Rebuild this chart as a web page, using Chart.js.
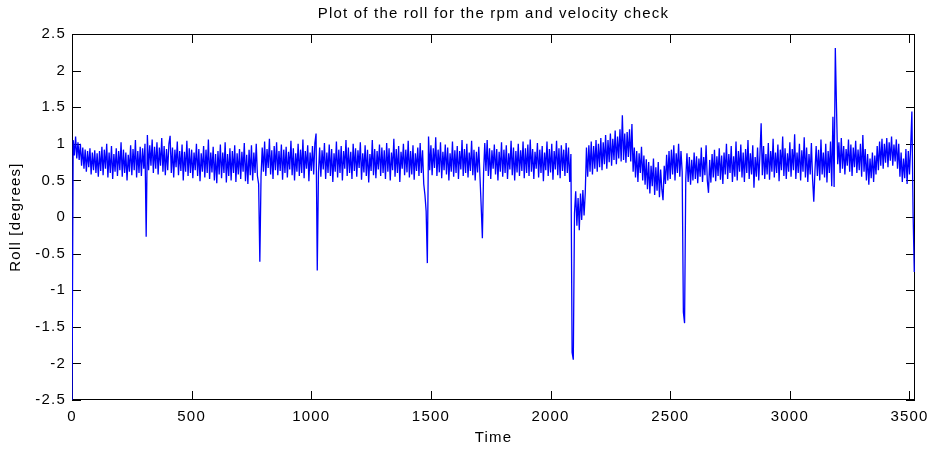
<!DOCTYPE html>
<html><head><meta charset="utf-8">
<script src="https://cdn.jsdelivr.net/npm/chart.js@4/dist/chart.umd.min.js"></script>
<style>html,body{margin:0;padding:0;background:#fff;}</style>
</head><body>
<canvas id="c" width="930" height="450"></canvas>
<script>
const chartTitle = "Plot of the roll for the rpm and velocity check";
const xTitle = "Time";
const yTitle = "Roll [degrees]";
const xTicks = [0, 500, 1000, 1500, 2000, 2500, 3000, 3500];
const yTicks = [-2.5, -2, -1.5, -1, -0.5, 0, 0.5, 1, 1.5, 2, 2.5];
const timeStep = 5;   // sample spacing of the roll series
const timeMax = 3523;

// roll values (degrees), one per sample
const roll0000 = [
 -2.5,1.05,0.84,1.1,0.8,1.02,0.78,1.0,0.7,0.95,0.66,0.92,0.62,0.9,0.68,0.94,0.58,0.88,0.64,0.91,
 0.6,0.87,0.55,0.9,0.63,0.96,0.57,0.92,0.66,1.0,0.54,0.88,0.6,0.97,0.52,0.86,0.62,0.94,0.56,0.9,
 0.64,1.02,0.55,0.92,0.6,0.88,0.5,0.85,0.62,0.98,0.57,0.93,0.64,1.05,0.54,0.9,0.6,0.96,0.56,0.94,
 0.66,1.0,-0.27,1.12,0.64,0.98,0.7,1.06,0.6,0.96,0.66,1.02,0.58,0.95,0.7,1.08,0.62,0.97,0.57,0.93,
 0.64,1.0,1.11,0.6,0.95,0.54,0.92,0.68,1.03,0.57,0.9,0.63,0.99,0.5,0.89,0.62,1.04,0.56,0.94,0.6];
const roll0500 = [
 0.92,0.53,0.88,0.64,1.0,0.56,0.93,0.49,0.87,0.62,0.97,0.54,0.92,0.6,1.06,0.52,0.88,0.61,0.96,0.5,
 0.86,0.46,0.9,0.58,0.99,0.53,0.88,0.6,1.02,0.47,0.86,0.56,0.94,0.5,0.9,0.6,0.98,0.48,0.87,0.58,
 0.93,0.52,0.89,0.62,1.01,0.49,0.85,0.45,0.92,0.57,0.98,0.5,0.88,0.6,1.0,0.56,0.45,-0.61,0.55,0.95,
 0.62,1.03,0.56,0.93,0.67,1.07,0.58,0.91,0.52,0.97,0.64,1.02,0.57,0.9,0.63,0.99,0.51,0.92,0.6,0.96,
 0.54,0.89,0.65,1.04,0.57,0.94,0.5,0.87,0.62,1.0,0.56,0.92,0.6,1.06,0.53,0.9,0.66,0.98,0.49,0.88];
const roll1000 = [
 0.63,0.97,0.58,1.01,1.14,-0.73,0.6,0.95,0.55,0.91,0.65,1.01,0.52,0.88,0.6,0.99,0.56,0.93,0.48,0.87,
 0.62,1.03,0.54,0.92,0.6,0.97,0.5,0.9,0.66,1.05,0.56,0.95,0.6,0.89,0.52,1.0,0.63,0.94,0.55,0.91,
 0.67,1.02,0.51,0.87,0.61,0.98,0.56,0.92,0.47,0.86,0.63,1.05,0.57,0.93,0.53,0.9,0.65,0.99,0.56,0.95,
 0.6,0.91,0.52,1.01,0.62,0.94,0.5,0.88,0.64,1.07,0.55,0.93,0.6,0.97,0.48,0.89,0.66,1.0,0.57,0.92,
 0.61,1.04,0.54,0.9,0.58,0.98,0.51,0.87,0.63,0.95,0.56,1.01,0.6,0.91,0.45,0.3,0.08,-0.63,1.1,0.64];
const roll1500 = [
 0.98,0.57,0.94,0.67,1.09,0.56,0.92,0.61,1.02,0.53,0.89,0.64,0.99,0.58,0.95,0.5,0.87,0.62,1.03,0.55,
 0.91,0.6,0.97,0.52,0.9,0.65,1.05,0.56,0.93,0.6,1.0,0.54,0.88,0.63,1.04,0.57,0.92,0.5,0.89,0.61,
 0.96,0.55,0.15,-0.29,0.6,1.01,0.63,1.05,0.56,0.94,0.52,0.91,0.66,0.99,0.58,0.93,0.5,0.89,0.62,1.02,
 0.55,0.92,0.6,0.98,0.52,0.87,0.65,1.04,0.57,0.95,0.5,0.9,0.61,1.0,0.56,0.91,0.63,1.03,0.53,0.94,
 0.6,0.99,0.56,1.06,0.62,0.93,0.52,0.89,0.66,1.01,0.54,0.92,0.6,0.97,0.49,0.88,0.64,1.03,0.56,0.93];
const roll2000 = [
 0.61,1.0,0.51,0.9,0.65,1.04,0.57,0.94,0.53,0.98,0.63,0.92,0.56,1.01,0.6,0.95,0.48,0.86,-1.85,-1.95,
 0.05,0.35,-0.12,0.26,-0.18,0.32,-0.04,0.37,0.02,0.33,0.95,0.55,0.98,0.62,1.03,0.58,0.97,0.66,1.05,0.62,
 1.0,0.68,1.08,0.64,1.02,0.72,1.12,0.66,1.05,0.75,1.14,0.7,1.07,0.78,1.18,0.72,1.1,0.8,1.2,0.76,
 1.39,0.78,1.14,0.74,1.16,0.82,1.2,0.76,1.27,0.62,0.95,0.54,0.9,0.48,0.87,0.6,0.96,0.5,0.84,0.44,
 0.79,0.38,0.75,0.32,0.7,0.42,0.8,0.3,0.68,0.36,0.75,0.27,0.65,0.38,0.23,0.7,0.45,0.85,0.5,0.9];
const roll2500 = [
 0.52,0.92,0.58,0.98,0.5,0.87,0.6,1.0,0.55,0.9,0.62,-1.3,-1.45,0.52,0.87,0.48,0.82,0.44,0.78,0.5,
 0.88,0.52,0.83,0.46,0.8,0.55,0.95,0.48,0.82,0.57,0.98,0.5,0.33,0.78,0.47,0.86,0.54,0.92,0.49,0.83,
 0.56,0.94,0.51,0.84,0.45,0.88,0.58,1.0,0.52,0.86,0.6,0.97,0.48,0.83,0.55,1.03,0.5,0.9,0.62,0.99,
 0.54,0.88,0.48,0.93,0.6,1.05,0.52,0.87,0.58,0.98,0.4,0.82,0.55,0.95,0.5,0.85,1.28,0.57,0.97,0.52,
 0.86,0.58,1.01,0.51,0.9,0.62,1.07,0.54,0.88,0.6,0.99,0.49,0.92,0.64,1.1,0.56,0.94,0.52,0.87,0.62];
const roll3000 = [
 1.02,0.55,0.93,0.64,1.13,0.52,0.88,0.6,1.0,0.5,0.91,0.62,1.09,0.54,0.95,0.48,0.86,0.58,1.01,0.52,
 0.21,0.64,0.97,0.56,0.92,0.5,1.06,0.58,0.88,0.54,1.0,0.47,0.9,0.6,1.03,0.42,1.37,0.41,2.31,1.49,
 0.72,1.02,0.6,1.08,0.66,0.97,0.58,0.93,0.7,1.06,0.62,0.99,0.56,0.95,0.68,1.04,0.6,0.92,0.64,1.0,
 0.55,1.12,0.62,0.93,0.5,0.86,0.44,0.8,0.53,0.88,0.48,0.84,0.58,0.97,0.64,1.03,0.7,1.07,0.66,1.0,
 0.74,1.08,0.68,1.02,0.77,1.1,0.7,0.99,0.76,1.06,0.66,1.0,0.55,0.88,0.48,0.8,0.53,0.93,0.45,0.9,
 0.58,0.97,1.44,0.05,-0.75];

const roll = [].concat(roll0000, roll0500, roll1000, roll1500, roll2000, roll2500, roll3000);
const points = roll.map((v, i) => ({ x: i * timeStep, y: v }));

const FONT = "'Liberation Sans', Arial, Helvetica, sans-serif";
const LS = '1.2px';

const spacingPlugin = {
  id: 'spacing',
  beforeLayout(chart) { chart.ctx.letterSpacing = LS; },
  afterLayout(chart) {
    const tb = chart.titleBlock;
    if (tb) { tb.left = chart.chartArea.left; tb.right = chart.chartArea.right; }
  },
  beforeDraw(chart) { chart.ctx.letterSpacing = LS; }
};

const boxTicksPlugin = {
  id: 'boxTicks',
  beforeDatasetsDraw(chart) {
    const { ctx, chartArea: a, scales: { x, y } } = chart;
    const tl = 9;
    ctx.save();
    ctx.strokeStyle = '#000';
    ctx.lineWidth = 1;
    ctx.beginPath();
    for (const v of xTicks) {
      const px = Math.round(x.getPixelForValue(v)) + 0.5;
      ctx.moveTo(px, a.bottom); ctx.lineTo(px, a.bottom - tl);
      ctx.moveTo(px, a.top); ctx.lineTo(px, a.top + tl);
    }
    for (const v of yTicks) {
      const py = Math.round(y.getPixelForValue(v)) + 0.5;
      ctx.moveTo(a.left, py); ctx.lineTo(a.left + tl, py);
      ctx.moveTo(a.right, py); ctx.lineTo(a.right - tl, py);
    }
    ctx.stroke();
    ctx.strokeRect(Math.round(a.left) + 0.5, Math.round(a.top) + 0.5,
                   Math.round(a.right - a.left) - 1, Math.round(a.bottom - a.top) - 1);
    ctx.restore();
  }
};

new Chart(document.getElementById('c'), {
  type: 'line',
  data: {
    datasets: [{
      data: points,
      borderColor: '#0000ff',
      borderWidth: 1.3,
      pointRadius: 0,
      tension: 0,
      fill: false
    }]
  },
  options: {
    responsive: false,
    animation: false,
    devicePixelRatio: 1,
    events: [],
    layout: { padding: { left: 0, right: 15, top: 0, bottom: 0 } },
    plugins: {
      legend: { display: false },
      tooltip: { enabled: false },
      title: {
        display: true,
        text: chartTitle,
        color: '#000',
        font: { family: FONT, size: 15, weight: 'normal', lineHeight: 1.2 },
        padding: { top: 4.5, bottom: 11.5 }
      }
    },
    scales: {
      x: {
        type: 'linear',
        min: 0,
        max: timeMax,
        grid: { display: false, drawTicks: false },
        border: { display: false },
        afterBuildTicks: s => { s.ticks = xTicks.map(v => ({ value: v })); },
        afterFit: s => { s.height = 50; s.paddingLeft = 0; s.paddingRight = 0; },
        ticks: {
          color: '#000',
          padding: 8,
          maxRotation: 0,
          autoSkip: false,
          font: { family: FONT, size: 15 },
          callback: v => String(v)
        },
        title: {
          display: true,
          text: xTitle,
          color: '#000',
          font: { family: FONT, size: 15 },
          padding: { top: 3, bottom: 3 }
        }
      },
      y: {
        type: 'linear',
        min: -2.5,
        max: 2.5,
        grid: { display: false, drawTicks: false },
        border: { display: false },
        afterBuildTicks: s => { s.ticks = yTicks.map(v => ({ value: v })); },
        afterFit: s => { s.width = 72; s.paddingTop = 0; s.paddingBottom = 0; },
        ticks: {
          color: '#000',
          padding: 6,
          autoSkip: false,
          font: { family: FONT, size: 15 },
          callback: v => String(v)
        },
        title: {
          display: true,
          text: yTitle,
          color: '#000',
          font: { family: FONT, size: 15 },
          padding: { top: 7, bottom: 3 }
        }
      }
    }
  },
  plugins: [spacingPlugin, boxTicksPlugin]
});
</script>
</body></html>
